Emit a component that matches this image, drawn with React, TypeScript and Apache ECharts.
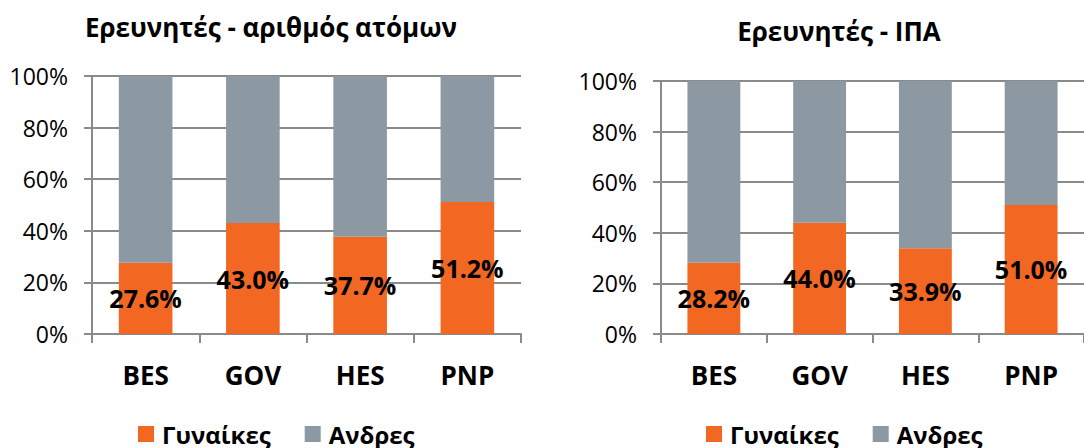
import React, { useEffect, useRef } from "react";
import * as echarts from "echarts";

const categories = ["BES", "GOV", "HES", "PNP"];
const yTicks = [0, 20, 40, 60, 80, 100];
const headcountWomen = [27.6, 43.0, 37.7, 51.2];
const headcountMen = [72.4, 57.0, 62.3, 48.8];
const fteWomen = [28.2, 44.0, 33.9, 51.0];
const fteMen = [71.8, 56.0, 66.1, 49.0];
const titles = ["Ερευνητές - αριθμός ατόμων", "Ερευνητές - ΙΠΑ"];
const seriesNames = ["Γυναίκες", "Ανδρες"];

const ORANGE = "#F26722";
const GREY = "#8D99A2";
const LINE = "#8A8A8A";
const FONT = "'Open Sans', 'Noto Sans', sans-serif";

export default function App() {
  const ref = useRef<HTMLDivElement>(null);
  useEffect(() => {
    if (!ref.current) return;
    const chart = echarts.init(ref.current, undefined, { renderer: "svg" });
    const grids = [
      { left: 92, right: 563, top: 76, bottom: 114 },
      { left: 661, right: -6, top: 81, bottom: 114 },
    ];
    const xAxis = grids.map((_, i) => ({
      type: "category",
      gridIndex: i,
      data: categories,
      axisLine: { lineStyle: { color: LINE, width: 2 } },
      axisTick: { show: true, length: 9, lineStyle: { color: LINE, width: 2 } },
      axisLabel: {
        margin: 28,
        fontFamily: FONT,
        fontWeight: "bold",
        fontSize: 26,
        color: "#000",
      },
    }));
    const yAxis = grids.map((_, i) => ({
      type: "value",
      gridIndex: i,
      min: yTicks[0],
      max: yTicks[yTicks.length - 1],
      interval: 20,
      axisLine: { show: true, lineStyle: { color: LINE, width: 2 } },
      axisTick: { show: true, length: 8, lineStyle: { color: LINE, width: 2 } },
      splitLine: { lineStyle: { color: LINE, width: 2 } },
      axisLabel: {
        margin: 24,
        formatter: "{value}%",
        fontFamily: FONT,
        fontSize: 23,
        color: "#000",
      },
    }));
    const labelCfg = {
      show: true,
      position: "inside",
      formatter: (p: any) => Number(p.value).toFixed(1) + "%",
      fontFamily: FONT,
      fontWeight: "bold",
      fontSize: 25,
      color: "#000",
    };
    const data = [
      [headcountWomen, headcountMen],
      [fteWomen, fteMen],
    ];
    const series: any[] = [];
    data.forEach((pair, i) => {
      series.push({
        name: seriesNames[0],
        type: "bar",
        stack: "s" + i,
        xAxisIndex: i,
        yAxisIndex: i,
        barWidth: "50%",
        data: pair[0],
        itemStyle: { color: ORANGE },
        label: labelCfg,
      });
      series.push({
        name: seriesNames[1],
        type: "bar",
        stack: "s" + i,
        xAxisIndex: i,
        yAxisIndex: i,
        barWidth: "50%",
        data: pair[1],
        itemStyle: { color: GREY },
      });
    });
    const legendBase = {
      data: seriesNames,
      icon: "rect",
      itemWidth: 16,
      itemHeight: 16,
      itemGap: 34,
      padding: 0,
      top: 422,
      textStyle: {
        fontFamily: FONT,
        fontWeight: "bold",
        fontSize: 24,
        color: "#000",
        padding: [0, 0, 0, 3],
      },
    };
    chart.setOption({
      animation: false,
      backgroundColor: "#fff",
      grid: grids,
      xAxis,
      yAxis,
      series,
      legend: [
        { ...legendBase, left: 138 },
        { ...legendBase, left: 706 },
      ],
      graphic: [
        {
          type: "text",
          x: 271,
          y: 27,
          style: {
            text: titles[0],
            fontFamily: FONT,
            fontWeight: "bold",
            fontSize: 26,
            fill: "#000",
            textAlign: "center",
            textVerticalAlign: "middle",
          },
        },
        {
          type: "text",
          x: 839,
          y: 31,
          style: {
            text: titles[1],
            fontFamily: FONT,
            fontWeight: "bold",
            fontSize: 26,
            fill: "#000",
            textAlign: "center",
            textVerticalAlign: "middle",
          },
        },
      ],
    });
    return () => chart.dispose();
  }, []);
  return (
    <div
      ref={ref}
      style={{ position: "fixed", left: 0, top: 0, width: 1084, height: 448 }}
    />
  );
}
